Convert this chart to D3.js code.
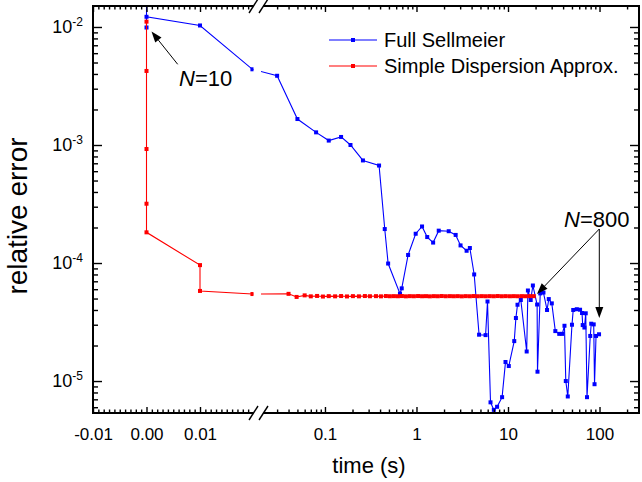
<!DOCTYPE html>
<html><head><meta charset="utf-8">
<script src="https://cdn.jsdelivr.net/npm/d3@7"></script>
<style>
body{margin:0;background:#fff;}
svg{display:block;font-family:"Liberation Sans", Arial, sans-serif;}
</style></head><body>
<svg id="chart" width="642" height="482"></svg>
<script>
// ---- data ----
const seriesNames = ["Full Sellmeier", "Simple Dispersion Approx."];
const sellmeierTime = [0, 0, 0, 0.01, 0.0198, 0.03, 0.05, 0.08, 0.11, 0.15,
  0.19, 0.26, 0.39, 0.45, 0.49, 0.66, 0.69, 0.81, 0.98, 1.15,
  1.31, 1.52, 1.75, 2.25, 2.68, 3.03, 3.53, 3.83, 4.27, 4.83,
  5.69, 5.97, 6.44, 7.0, 7.6, 8.62, 9.39, 10.2, 11.7, 12.2,
  12.7, 13.8, 16.0, 16.5, 17.7, 18.7, 20.8, 21.0, 22.5, 24.4,
  26.7, 27.9, 30.1, 32.9, 36.3, 39.2, 41.4, 42.8, 45.0, 50.0,
  51.6, 56.4, 61.3, 64.4, 65.5, 68.4, 70.7, 73.0, 79.2, 81.2,
  86.4, 88.2, 91.6, 98.8];
const sellmeierError = [0.0099, 0.03, 0.0122, 0.0103, 0.00438, 0.00386, 1.66e-3, 1.28e-3, 1.09e-3, 1.17e-3,
  1.0e-3, 7.4e-4, 6.7e-4, 1.94e-4, 9.9e-5, 5.5e-5, 6.1e-5, 1.17e-4, 1.77e-4, 2.04e-4,
  1.66e-4, 1.49e-4, 1.88e-4, 1.86e-4, 1.73e-4, 1.41e-4, 1.27e-4, 1.34e-4, 8.0e-5, 2.47e-5,
  2.45e-5, 4.72e-5, 6.6e-6, 5.7e-6, 6.05e-6, 7.3e-6, 1.45e-5, 1.34e-5, 2.18e-5, 3.42e-5,
  4.43e-5, 4.86e-5, 1.78e-5, 5.85e-5, 4.86e-5, 6.45e-5, 4.45e-5, 1.2e-5, 5.53e-5, 5.62e-5,
  4.0e-5, 4.95e-5, 4.55e-5, 2.65e-5, 2.51e-5, 2.51e-5, 2.94e-5, 1.0e-5, 7.4e-6, 3.0e-5,
  4.0e-5, 4.06e-5, 4.02e-5, 3.77e-5, 2.98e-5, 2.84e-5, 3.75e-5, 7.3e-6, 2.41e-5, 3.06e-5,
  3.02e-5, 9.4e-6, 2.41e-5, 2.49e-5];
const simpleTime = [0, 0, 0, 0, 0, 0.01, 0.01, 0.0198,
  0.040, 0.049, 0.060, 0.070, 0.082, 0.095, 0.11, 0.129, 0.15,
  0.174, 0.202, 0.235, 0.273, 0.31, 0.361, 0.409, 0.463, 0.512, 0.567, 0.627,
  0.693, 0.766, 0.847, 0.937, 1.04, 1.15, 1.27, 1.40, 1.55, 1.71,
  1.89, 2.09, 2.32, 2.56, 2.83, 3.13, 3.46, 3.83, 4.23, 4.68,
  5.18, 5.72, 6.33, 7.0, 7.74, 8.56, 9.46, 10.5, 11.6, 12.8,
  14.2, 15.6, 17.3, 19.1];
const simpleError = [0.0111, 0.00424, 9.25e-4, 3.18e-4, 1.82e-4, 9.6e-5, 5.8e-5, 5.46e-5,
  5.48e-5, 5.16e-5, 5.32e-5, 5.22e-5, 5.26e-5, 5.2e-5, 5.24e-5, 5.22e-5, 5.25e-5,
  5.21e-5, 5.24e-5, 5.22e-5, 5.25e-5, 5.23e-5, 5.24e-5, 5.22e-5, 5.25e-5, 5.23e-5, 5.24e-5, 5.23e-5,
  5.25e-5, 5.22e-5, 5.24e-5, 5.23e-5, 5.25e-5, 5.23e-5, 5.24e-5, 5.22e-5, 5.24e-5, 5.23e-5,
  5.25e-5, 5.23e-5, 5.24e-5, 5.23e-5, 5.24e-5, 5.22e-5, 5.24e-5, 5.23e-5, 5.25e-5, 5.23e-5,
  5.24e-5, 5.23e-5, 5.24e-5, 5.23e-5, 5.25e-5, 5.23e-5, 5.24e-5, 5.23e-5, 5.24e-5, 5.23e-5,
  5.24e-5, 5.23e-5, 5.24e-5, 5.24e-5];
const linTickValues = [-0.01, 0, 0.01];
const logTickValues = [0.1, 1, 10, 100];
const logTickLabels = ["0.1", "1", "10", "100"];
const yTickValues = [1e-2, 1e-3, 1e-4, 1e-5];
const colors = ["#0000ff", "#ff0000"];

// ---- layout ----
const svg = d3.select("#chart");
const L = 93, R = 639, T = 6, B = 413, breakL = 253.5, breakR = 261;
const xLin = d3.scaleLinear().domain([-0.01, 0.02]).range([L, breakL]);
const xLog = d3.scaleLog().domain([0.02, 270]).range([breakR, R]);
const X = t => t <= 0.02 ? xLin(t) : xLog(t);
const y = d3.scaleLog().domain([5.36e-6, 0.01506]).range([B, T]);

const defs = svg.append("defs");
const cp = defs.append("clipPath").attr("id", "plotclip");
cp.append("rect").attr("x", L).attr("y", T).attr("width", breakL - L).attr("height", B - T);
cp.append("rect").attr("x", breakR).attr("y", T).attr("width", R - breakR).attr("height", B - T);

// ---- series ----
const series = [
  {name: seriesNames[0], color: colors[0], data: sellmeierTime.map((t, i) => ({t, v: sellmeierError[i]}))},
  {name: seriesNames[1], color: colors[1], data: simpleTime.map((t, i) => ({t, v: simpleError[i]}))}
];
const line = d3.line().x(d => X(d.t)).y(d => y(d.v));
const plot = svg.append("g").attr("clip-path", "url(#plotclip)");
series.forEach(s => {
  const g = plot.append("g");
  g.append("path").attr("d", line(s.data)).attr("fill", "none").attr("stroke", s.color).attr("stroke-width", 1.1);
  g.selectAll("rect").data(s.data).join("rect")
    .attr("x", d => X(d.t) - 2).attr("y", d => y(d.v) - 2)
    .attr("width", 4).attr("height", 4).attr("fill", s.color);
});

// ---- axes ----
const linMinor = d3.range(-10, 21).map(i => i / 1000).filter(v => Math.abs(v * 100 - Math.round(v * 100)) > 1e-6);
const logMinor = [];
[-2, -1, 0, 1, 2].forEach(e => { for (let k = 2; k <= 9; k++) { const v = k * Math.pow(10, e); if (v > 0.0201 && v < 270) logMinor.push(v); } });
const yMinor = [];
[-6, -5, -4, -3, -2].forEach(e => { for (let k = 2; k <= 9; k++) { const v = k * Math.pow(10, e); if (v > 5.36e-6 && v < 0.01506) yMinor.push(v); } });

function styleAxis(g) {
  g.select(".domain").remove();
  g.selectAll(".tick line").attr("stroke", "#000").attr("stroke-width", 1.4);
  g.selectAll(".tick text").attr("fill", "#000").attr("font-family", "Liberation Sans, Arial, sans-serif");
}
const fmtLin = d => d.toFixed(2);

// bottom
svg.append("g").attr("transform", `translate(0,${B})`)
  .call(d3.axisBottom(xLin).tickValues(linTickValues).tickSizeInner(-6).tickSizeOuter(0).tickPadding(15).tickFormat(fmtLin))
  .call(styleAxis).selectAll("text").attr("font-size", 17);
svg.append("g").attr("transform", `translate(0,${B})`)
  .call(d3.axisBottom(xLin).tickValues(linMinor).tickSizeInner(-3.5).tickSizeOuter(0).tickFormat(""))
  .call(styleAxis);
svg.append("g").attr("transform", `translate(0,${B})`)
  .call(d3.axisBottom(xLog).tickValues(logTickValues).tickSizeInner(-6).tickSizeOuter(0).tickPadding(15).tickFormat((d, i) => logTickLabels[i]))
  .call(styleAxis).selectAll("text").attr("font-size", 17);
svg.append("g").attr("transform", `translate(0,${B})`)
  .call(d3.axisBottom(xLog).tickValues(logMinor).tickSizeInner(-3.5).tickSizeOuter(0).tickFormat(""))
  .call(styleAxis);
// top
svg.append("g").attr("transform", `translate(0,${T})`)
  .call(d3.axisTop(xLin).tickValues(linTickValues).tickSizeInner(-6).tickSizeOuter(0).tickFormat(""))
  .call(styleAxis);
svg.append("g").attr("transform", `translate(0,${T})`)
  .call(d3.axisTop(xLin).tickValues(linMinor).tickSizeInner(-3.5).tickSizeOuter(0).tickFormat(""))
  .call(styleAxis);
svg.append("g").attr("transform", `translate(0,${T})`)
  .call(d3.axisTop(xLog).tickValues(logTickValues).tickSizeInner(-6).tickSizeOuter(0).tickFormat(""))
  .call(styleAxis);
svg.append("g").attr("transform", `translate(0,${T})`)
  .call(d3.axisTop(xLog).tickValues(logMinor).tickSizeInner(-3.5).tickSizeOuter(0).tickFormat(""))
  .call(styleAxis);
// left
const leftAx = svg.append("g").attr("transform", `translate(${L},0)`)
  .call(d3.axisLeft(y).tickValues(yTickValues).tickSizeInner(-9).tickSizeOuter(0).tickPadding(10).tickFormat(d => "10"))
  .call(styleAxis);
leftAx.selectAll(".tick text").attr("font-size", 18).each(function (d) {
  const e = Math.round(Math.log10(d));
  const t = d3.select(this).text(null);
  t.append("tspan").text("10");
  t.append("tspan").attr("dy", -7).attr("font-size", 12).text(String(e).replace("\u2212", "-"));
});
svg.append("g").attr("transform", `translate(${L},0)`)
  .call(d3.axisLeft(y).tickValues(yMinor).tickSizeInner(-5).tickSizeOuter(0).tickFormat(""))
  .call(styleAxis);
// right
svg.append("g").attr("transform", `translate(${R},0)`)
  .call(d3.axisRight(y).tickValues(yTickValues).tickSizeInner(-9).tickSizeOuter(0).tickFormat(""))
  .call(styleAxis);
svg.append("g").attr("transform", `translate(${R},0)`)
  .call(d3.axisRight(y).tickValues(yMinor).tickSizeInner(-5).tickSizeOuter(0).tickFormat(""))
  .call(styleAxis);

// axis frame lines with break
const frame = svg.append("g").attr("stroke", "#000").attr("stroke-width", 2).attr("fill", "none");
frame.append("line").attr("x1", L).attr("x2", L).attr("y1", T - 1).attr("y2", B + 1);
frame.append("line").attr("x1", R).attr("x2", R).attr("y1", T - 1).attr("y2", B + 1);
[T, B].forEach(yy => {
  frame.append("line").attr("x1", L).attr("x2", breakL).attr("y1", yy).attr("y2", yy);
  frame.append("line").attr("x1", breakR + 2).attr("x2", R).attr("y1", yy).attr("y2", yy);
  [breakL, breakR + 2.5].forEach(bx => {
    frame.append("line").attr("x1", bx - 4.5).attr("y1", yy + 7).attr("x2", bx + 4.5).attr("y2", yy - 7).attr("stroke-width", 1.4);
  });
});

// ---- titles ----
svg.append("text").attr("x", 369).attr("y", 473).attr("text-anchor", "middle")
  .attr("font-size", 22).text("time (s)");
svg.append("text").attr("transform", "translate(27,216) rotate(-90)").attr("text-anchor", "middle")
  .attr("font-size", 28).text("relative error");

// ---- legend ----
const legendRows = [40, 66];
series.forEach((s, i) => {
  const g = svg.append("g");
  g.append("line").attr("x1", 329).attr("x2", 377).attr("y1", legendRows[i]).attr("y2", legendRows[i])
    .attr("stroke", s.color).attr("stroke-width", 1.1);
  g.append("rect").attr("x", 351).attr("y", legendRows[i] - 2).attr("width", 4).attr("height", 4).attr("fill", s.color);
  g.append("text").attr("x", 384).attr("y", legendRows[i] + 7).attr("font-size", 20).text(s.name);
});

// ---- annotations ----
function arrow(x1, y1, x2, y2) {
  const a = Math.atan2(y2 - y1, x2 - x1), len = 11, w = 4;
  const bx = x2 - len * Math.cos(a), by = y2 - len * Math.sin(a);
  svg.append("line").attr("x1", x1).attr("y1", y1).attr("x2", bx).attr("y2", by).attr("stroke", "#000").attr("stroke-width", 1);
  const p = [[x2, y2], [bx + w * Math.sin(a), by - w * Math.cos(a)], [bx - w * Math.sin(a), by + w * Math.cos(a)]];
  svg.append("path").attr("d", d3.line()(p) + "Z").attr("fill", "#000");
}
function nLabel(x, yy, val) {
  const t = svg.append("text").attr("x", x).attr("y", yy).attr("font-size", 22);
  t.append("tspan").attr("font-style", "italic").text("N");
  t.append("tspan").text("=" + val);
}
nLabel(179, 86, "10");
arrow(177.7, 64.3, 151.5, 31.5);
nLabel(564, 227, "800");
arrow(599.3, 229, 537, 294);
arrow(599.3, 229, 599.3, 318);
</script>
</body></html>
